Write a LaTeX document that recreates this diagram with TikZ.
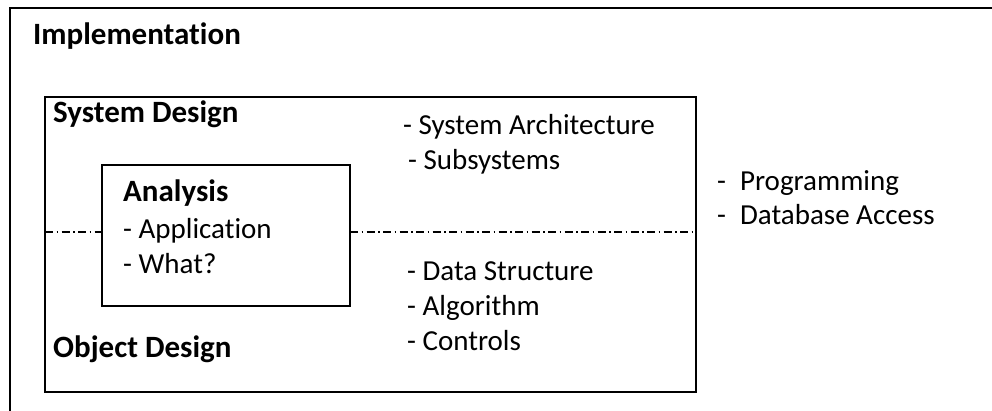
\documentclass[tikz,border=0pt]{standalone}
\usepackage{fontspec}
\setmainfont[Ligatures={NoCommon,NoRare}]{Carlito}
\begin{document}
\begin{tikzpicture}[x=1pt,y=-1pt,
  outerbox/.style={draw, line width=2.6pt, inner sep=0pt, outer sep=0pt, anchor=north west},
  box/.style={draw, line width=2.1pt, inner sep=0pt, outer sep=0pt, anchor=north west},
  title/.style={inner sep=0pt, anchor=base west, font=\fontsize{31}{37}\selectfont\bfseries},
  txt/.style={inner sep=0pt, anchor=base west, font=\fontsize{29}{35}\selectfont},
  dashdot/.style={line width=1.1pt, dash pattern=on 8pt off 3.5pt on 1.5pt off 3.5pt}]
\useasboundingbox (0,0) rectangle (992,411);
\clip (0,0) rectangle (992,411);
\fill[white] (0,0) rectangle (992,411);
% boxes
\node[outerbox, minimum width=1010pt, minimum height=430pt] (impl) at (10,8) {};
\node[box, minimum width=651pt, minimum height=295pt] (sys) at (45,97) {};
\node[box, minimum width=248pt, minimum height=141pt] (ana) at (102,165) {};
% dash-dot divider
\coordinate (div) at (0,232);
\draw[dashdot] (sys.west |- div) -- (ana.west |- div);
\draw[dashdot] (ana.east |- div) -- (sys.east |- div);
% texts
\node[title] (timpl) at (33,45) {Implementation};
\node[title] (tsys) at (53,123) {System Design};
\node[title] (tobj) at (53,357) {Object Design};
\node[title] (tana) at (123,202) {Analysis};
\node[txt] (app) at (123,239) {- Application};
\node[txt] (what) at (123,274) {- What?};
\node[txt] (arch) at (403,135) {- System Architecture};
\node[txt] (subs) at (408,170) {- Subsystems};
\node[txt] (ds) at (407,280) {- Data Structure};
\node[txt] (alg) at (407,315) {- Algorithm};
\node[txt] (ctl) at (407,350) {- Controls};
\node[txt] (prog) at (717,191) {-\hspace{14pt}Programming};
\node[txt] (db) at (717,225) {-\hspace{14pt}Database Access};
\end{tikzpicture}
\end{document}
